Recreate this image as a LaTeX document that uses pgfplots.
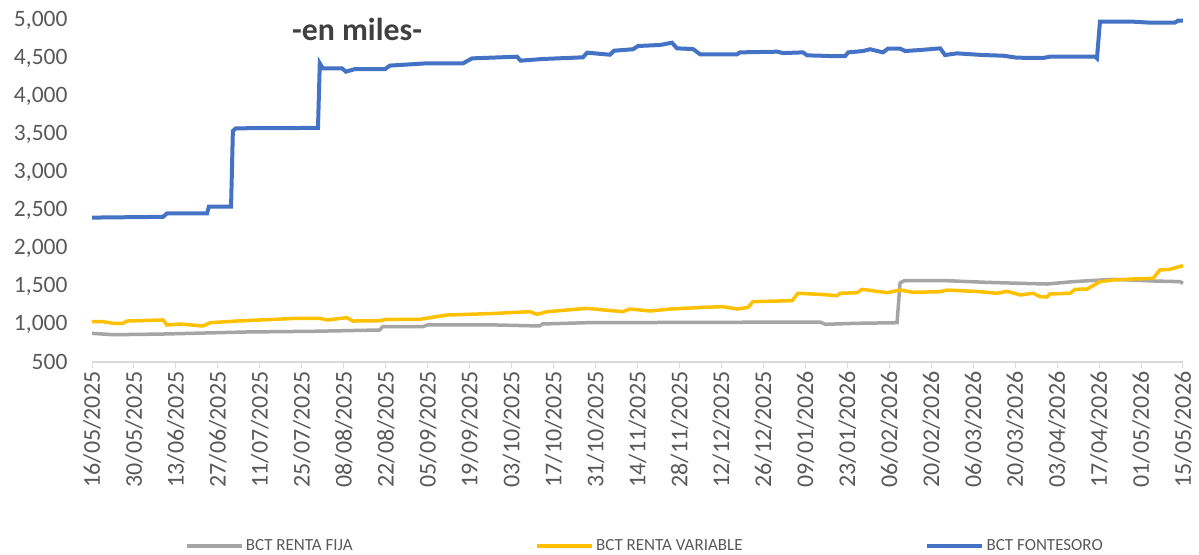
\documentclass[border=0pt]{standalone}
\usepackage{pgfplots}
\pgfplotsset{compat=1.18}
\usepackage{fontspec}
\setmainfont{Carlito}

\definecolor{bctblue}{HTML}{4472C4}
\definecolor{bctgold}{HTML}{FFC000}
\definecolor{bctgray}{HTML}{A5A5A5}
\definecolor{labelgray}{HTML}{595959}
\definecolor{axisgray}{HTML}{D9D9D9}
\definecolor{titlegray}{HTML}{404040}

\begin{document}
\begin{tikzpicture}
\begin{axis}[
	at={(92bp,193bp)},
	anchor=south west,
	scale only axis,
	width=1091bp,
	height=342bp,
	xmin=0, xmax=364,
	ymin=500, ymax=5000,
	clip=false,
	axis line style={draw=none},
	axis x line*=bottom,
	axis y line*=left,
	ytick={500,1000,...,5000},
	ytick style={draw=none},
	yticklabel style={/pgf/number format/fixed, /pgf/number format/1000 sep={,}, /pgf/number format/assume math mode=true,
		font=\fontsize{23.5bp}{28bp}\selectfont, color=labelgray, xshift=-15bp},
	xtick={0,14,...,364},
	xticklabels={16/05/2025,30/05/2025,13/06/2025,27/06/2025,11/07/2025,25/07/2025,08/08/2025,22/08/2025,05/09/2025,19/09/2025,03/10/2025,17/10/2025,31/10/2025,14/11/2025,28/11/2025,12/12/2025,26/12/2025,09/01/2026,23/01/2026,06/02/2026,20/02/2026,06/03/2026,20/03/2026,03/04/2026,17/04/2026,01/05/2026,15/05/2026},
	xticklabel style={rotate=90, anchor=east, font=\fontsize{24bp}{28bp}\selectfont, color=labelgray},
	x tick style={draw=axisgray, line width=1bp},
	major tick length=6bp,
	tick align=outside,
	legend columns=3,
	legend style={
		at={(0.507,-0.538)}, anchor=center,
		draw=none, fill=none,
		font=\fontsize{17bp}{20bp}\selectfont\color{labelgray},
		/tikz/every even column/.append style={column sep=180bp},
		nodes={inner sep=2.5bp},
	},
	legend image code/.code={\draw[#1] (0bp,0bp) -- (55bp,0bp);},
]
% baseline of the axis (500)
\addplot[axisgray, line width=1.2bp, forget plot] coordinates {(0,500) (364,500)};

\addplot[bctgray, line width=3.5bp] coordinates {
(0,877) (7,859) (23.7,868) (51.7,895) (73.7,904) (96,921) (97,965) (110.3,965)
(112,987) (135,987) (149.3,974) (150.3,1000) (165,1017) (242.9,1026) (244.6,996)
(255,1009) (268.6,1017) (269.6,1540) (271,1570) (285,1570) (298.6,1548)
(309.7,1535) (318.6,1526) (327.3,1557) (340.7,1588) (354,1566) (363,1557) (364,1535)
};
\addplot[bctgold, line width=3.5bp] coordinates {
(0,1030) (3.7,1030) (7,1009) (10.3,1009) (11.7,1039) (23.7,1053) (25,987)
(29.4,1000) (37,974) (39.4,1017) (48.4,1039) (68.4,1075) (76,1075) (78.4,1053)
(85,1083) (87.1,1039) (96,1043) (98.4,1062) (109.4,1062) (118.4,1118) (135,1140)
(140.8,1153) (146.1,1162) (148.5,1127) (151.8,1162) (165,1206) (177.1,1162)
(179.5,1197) (186.2,1171) (192.8,1197) (203.9,1219) (210.5,1228) (215.2,1197)
(218.9,1219) (220.5,1294) (233.6,1307) (235.5,1404) (242.9,1390) (248.6,1373)
(249.6,1404) (255.3,1412) (256.9,1456) (265.3,1412) (269.6,1447) (273.9,1417)
(282.9,1425) (285.3,1447) (296.3,1425) (302,1404) (305.3,1430) (309.7,1382)
(314,1404) (316.3,1360) (318.6,1355) (319.6,1395) (326.3,1404) (328,1456)
(332,1460) (336.3,1557) (340.7,1579) (347.3,1592) (354,1601) (356.3,1711)
(359.7,1720) (364,1768)
};
\addplot[bctblue, line width=4bp] coordinates {
(0,2400) (23.7,2410) (25,2455) (38.4,2455) (39,2545) (46.4,2545) (47,3540)
(48,3575) (75.4,3580) (76,4430) (77,4365) (83.4,4365) (84.7,4320) (87.8,4355)
(97.8,4355) (99.4,4400) (111.8,4430) (123.8,4430) (126.8,4495) (141.8,4517)
(143,4465) (150.5,4487) (163.8,4509) (165.2,4570) (172.8,4543) (174.2,4596)
(180.5,4615) (182.2,4658) (189.5,4671) (193.5,4701) (195.2,4627) (200.5,4618)
(202.9,4548) (215.2,4548) (216.2,4574) (228.6,4583) (230.6,4565) (237.2,4574)
(238.6,4535) (246.3,4526) (251.3,4526) (252.3,4574) (257.3,4592) (259.6,4615)
(263.9,4574) (265.6,4624) (269.6,4624) (271.3,4592) (276.3,4605) (283,4627)
(284.6,4539) (288.6,4561) (297.3,4539) (304,4530) (308.6,4504) (317.3,4500)
(319.6,4517) (334.7,4517) (335.3,4496) (336.3,4978) (347.3,4978) (353,4965)
(361.3,4965) (362.3,4991) (364,4991)
};
\legend{BCT RENTA FIJA,BCT RENTA VARIABLE,BCT FONTESORO}

\node[font=\fontsize{31.8bp}{36bp}\selectfont\bfseries, color=titlegray]
	at (rel axis cs:0.243,0.971) {-en miles-};
\end{axis}
\pgfresetboundingbox
\useasboundingbox (0,0) rectangle (1199bp,555bp);
\end{tikzpicture}
\end{document}
